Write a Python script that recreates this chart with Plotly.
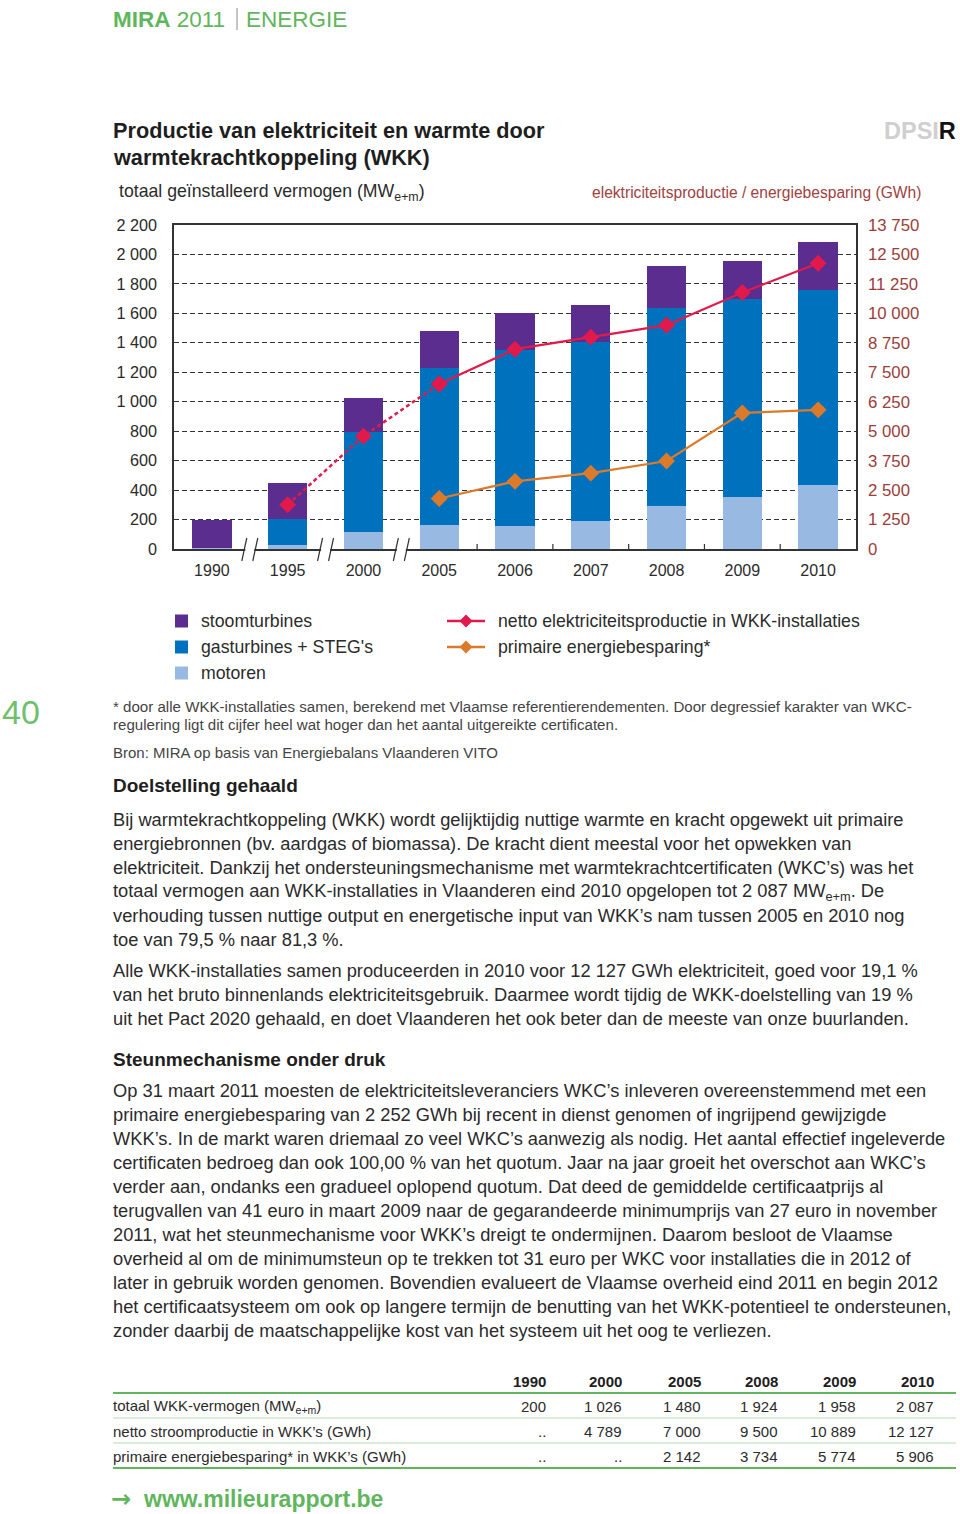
import plotly.graph_objects as go

W, H = 960, 1514
FONT = "Liberation Sans"
TXT = "#2b2b2b"
GREEN = "#5fb65d"

# ---------------- data ----------------
years = ["1990", "1995", "2000", "2005", "2006", "2007", "2008", "2009", "2010"]
motoren = [8, 25, 115, 160, 154, 192, 294, 350, 432]
gasturbines = [0, 181, 679, 1070, 1200, 1214, 1345, 1346, 1327]
stoomturbines = [192, 242, 232, 250, 251, 249, 285, 262, 328]
netto = [None, 1880, 4789, 7000, 8480, 8990, 9500, 10889, 12127]
besparing = [None, None, None, 2142, 2870, 3220, 3734, 5774, 5906]

left_ticks = list(range(0, 2201, 200))
right_ticks = list(range(0, 13751, 1250))

table_years = ["1990", "2000", "2005", "2008", "2009", "2010"]
table_rows = [
    ("totaal WKK-vermogen (MW<sub>e+m</sub>)", ["200", "1 026", "1 480", "1 924", "1 958", "2 087"]),
    ("netto stroomproductie in WKK’s (GWh)", ["..", "4 789", "7 000", "9 500", "10 889", "12 127"]),
    ("primaire energiebesparing* in WKK’s (GWh)", ["..", "..", "2 142", "3 734", "5 774", "5 906"]),
]

def fmt(v):
    return f"{v:,}".replace(",", " ")

# ---------------- geometry helpers ----------------
PL, PR, PT, PB = 174, 856, 225, 549

def px(x):
    return x / W

def py(y):
    return 1 - y / H

x_idx = list(range(len(years)))

fig = go.Figure()
fig.add_bar(x=x_idx, y=motoren, name="motoren", marker=dict(color="#98b9e2", line=dict(width=0)), width=0.52)
fig.add_bar(x=x_idx, y=gasturbines, name="gasturbines + STEG's", marker=dict(color="#0072bd", line=dict(width=0)), width=0.52)
fig.add_bar(x=x_idx, y=stoomturbines, name="stoomturbines", marker=dict(color="#5b2d8e", line=dict(width=0)), width=0.52)

RED = "#e2194b"
ORANGE = "#dd7a2a"
dot_x = [i for i in range(1, 4)]
dot_y = [netto[i] for i in dot_x]
sol_x = [i for i in range(3, 9)]
sol_y = [netto[i] for i in sol_x]
fig.add_scatter(x=dot_x, y=dot_y, yaxis="y2", mode="lines+markers",
                line=dict(color=RED, width=2.5, dash="4px,3px"),
                marker=dict(symbol="diamond", size=13, color=RED), showlegend=False)
fig.add_scatter(x=sol_x, y=sol_y, yaxis="y2", mode="lines+markers",
                line=dict(color=RED, width=2.2),
                marker=dict(symbol="diamond", size=13, color=RED), showlegend=False)
bx = [i for i, v in enumerate(besparing) if v is not None]
fig.add_scatter(x=bx, y=[besparing[i] for i in bx], yaxis="y2", mode="lines+markers",
                line=dict(color=ORANGE, width=2.2),
                marker=dict(symbol="diamond", size=13, color=ORANGE), showlegend=False)

fig.update_layout(
    width=W, height=H, margin=dict(l=0, r=0, t=0, b=0, pad=0, autoexpand=False),
    paper_bgcolor="white", plot_bgcolor="white",
    barmode="stack", showlegend=False,
    font=dict(family=FONT, color=TXT),
    xaxis=dict(domain=[px(PL), px(PR)], range=[-0.5, 8.5], tickvals=x_idx, ticktext=years,
               showline=True, linecolor="#333", linewidth=1.5, mirror=True, ticks="",
               showgrid=False, zeroline=False, tickfont=dict(size=16, color=TXT),
               ticklabelstandoff=6, automargin=False),
    yaxis=dict(domain=[py(PB), py(PT)], range=[0, 2200], tickvals=left_ticks,
               ticktext=[fmt(v) for v in left_ticks], showgrid=True, gridcolor="#333",
               griddash="5px,3px", gridwidth=1, showline=True, linecolor="#333", linewidth=1.5,
               mirror=True, zeroline=False, ticks="", tickfont=dict(size=16.2, color=TXT),
               ticklabelstandoff=12, automargin=False),
    yaxis2=dict(overlaying="y", side="right", range=[0, 13750], tickvals=right_ticks,
                ticktext=[fmt(v) for v in right_ticks], showgrid=False, showline=False,
                zeroline=False, ticks="", tickfont=dict(size=16.8, color="#9c3d3a"),
                ticklabelstandoff=11, automargin=False),
)

shapes = []
anns = []

def line(x0, y0, x1, y1, color="#333", width=1.2):
    shapes.append(dict(type="line", xref="paper", yref="paper", x0=px(x0), y0=py(y0),
                       x1=px(x1), y1=py(y1), line=dict(color=color, width=width)))

def rect(x0, y0, x1, y1, color):
    shapes.append(dict(type="rect", xref="paper", yref="paper", x0=px(x0), y0=py(y0),
                       x1=px(x1), y1=py(y1), line=dict(width=0), fillcolor=color))

def diamond(cx, cy, r, color):
    path = (f"M {px(cx - r)},{py(cy)} L {px(cx)},{py(cy - r)} L {px(cx + r)},{py(cy)} "
            f"L {px(cx)},{py(cy + r)} Z")
    shapes.append(dict(type="path", xref="paper", yref="paper", path=path,
                       fillcolor=color, line=dict(width=0)))

def txt(x, y, s, size=17, color=TXT, weight="normal", anchor="left", family=FONT):
    x = x - 2 if anchor == "left" else (x + 2 if anchor == "right" else x)
    anns.append(dict(x=px(x), y=py(y), xref="paper", yref="paper", text=s, showarrow=False,
                     xanchor=anchor, yanchor="middle",
                     font=dict(size=size, color=color, family=family, weight=weight)))

# axis breaks and inner ticks
slot = (PR - PL) / len(years)
for b in [0.5, 1.5, 2.5]:
    bxp = PL + (b + 0.5) * slot
    rect(bxp - 4.5, PB - 2, bxp + 4.5, PB + 2, "white")
    line(bxp - 8, PB + 12, bxp - 3, PB - 11, width=1.2)
    line(bxp + 3, PB + 12, bxp + 8, PB - 11, width=1.2)
for b in [3.5, 4.5, 5.5, 6.5, 7.5]:
    bxp = PL + (b + 0.5) * slot
    line(bxp, PB, bxp, PB - 5, width=1.2)

# header
txt(113, 19, "<b>MIRA</b> 2011", size=22.5, color=GREEN)
line(237, 8, 237, 30, color="#888", width=1)
txt(246, 19, "ENERGIE", size=22.5, color=GREEN)
txt(956, 131, "<span style='color:#cfcfcf'>DPSI</span>R", size=23.5, color="#111", weight="bold",
    anchor="right")

# title
txt(113, 130, "Productie van elektriciteit en warmte door", size=21.7, color="#1e1e1e", weight="bold")
txt(113, 157, "warmtekrachtkoppeling (WKK)", size=21.7, color="#1e1e1e", weight="bold")
txt(119, 192, "totaal geïnstalleerd vermogen (MW<sub>e+m</sub>)", size=17.7)
txt(921, 192, "elektriciteitsproductie / energiebesparing (GWh)", size=15.6, color="#a0413f",
    anchor="right")

# legend
leg_sq = [("stoomturbines", "#5b2d8e"), ("gasturbines + STEG's", "#0072bd"), ("motoren", "#98b9e2")]
for i, (name, col) in enumerate(leg_sq):
    yc = 621 + i * 26
    rect(175, yc - 6.5, 188, yc + 6.5, col)
    txt(201, yc, name, size=17.7)
leg_ln = [("netto elektriciteitsproductie in WKK-installaties", RED),
          ("primaire energiebesparing*", ORANGE)]
for i, (name, col) in enumerate(leg_ln):
    yc = 621 + i * 26
    line(447, yc, 485, yc, color=col, width=2.5)
    diamond(466, yc, 6.5, col)
    txt(498, yc, name, size=17.7)

# page number
txt(2, 712, "40", size=34, color="#6fc06c")

# footnote / source
txt(113, 706, "* door alle WKK-installaties samen, berekend met Vlaamse referentierendementen. Door degressief karakter van WKC-", size=15.1, color="#444")
txt(113, 724, "regulering ligt dit cijfer heel wat hoger dan het aantal uitgereikte certificaten.", size=15.1, color="#444")
txt(113, 752, "Bron: MIRA op basis van Energiebalans Vlaanderen VITO", size=15, color="#444")

# body text
txt(113, 785, "Doelstelling gehaald", size=19, color="#1e1e1e", weight="bold")
p1 = [
    "Bij warmtekrachtkoppeling (WKK) wordt gelijktijdig nuttige warmte en kracht opgewekt uit primaire",
    "energiebronnen (bv. aardgas of biomassa). De kracht dient meestal voor het opwekken van",
    "elektriciteit. Dankzij het ondersteuningsmechanisme met warmtekrachtcertificaten (WKC’s) was het",
    "totaal vermogen aan WKK-installaties in Vlaanderen eind 2010 opgelopen tot 2 087 MW<sub>e+m</sub>. De",
    "verhouding tussen nuttige output en energetische input van WKK’s nam tussen 2005 en 2010 nog",
    "toe van 79,5 % naar 81,3 %.",
]
p2 = [
    "Alle WKK-installaties samen produceerden in 2010 voor 12 127 GWh elektriciteit, goed voor 19,1 %",
    "van het bruto binnenlands elektriciteitsgebruik. Daarmee wordt tijdig de WKK-doelstelling van 19 %",
    "uit het Pact 2020 gehaald, en doet Vlaanderen het ook beter dan de meeste van onze buurlanden.",
]
p3 = [
    "Op 31 maart 2011 moesten de elektriciteitsleveranciers WKC’s inleveren overeenstemmend met een",
    "primaire energiebesparing van 2 252 GWh bij recent in dienst genomen of ingrijpend gewijzigde",
    "WKK’s. In de markt waren driemaal zo veel WKC’s aanwezig als nodig. Het aantal effectief ingeleverde",
    "certificaten bedroeg dan ook 100,00 % van het quotum. Jaar na jaar groeit het overschot aan WKC’s",
    "verder aan, ondanks een gradueel oplopend quotum. Dat deed de gemiddelde certificaatprijs al",
    "terugvallen van 41 euro in maart 2009 naar de gegarandeerde minimumprijs van 27 euro in november",
    "2011, wat het steunmechanisme voor WKK’s dreigt te ondermijnen. Daarom besloot de Vlaamse",
    "overheid al om de minimumsteun op te trekken tot 31 euro per WKC voor installaties die in 2012 of",
    "later in gebruik worden genomen. Bovendien evalueert de Vlaamse overheid eind 2011 en begin 2012",
    "het certificaatsysteem om ook op langere termijn de benutting van het WKK-potentieel te ondersteunen,",
    "zonder daarbij de maatschappelijke kost van het systeem uit het oog te verliezen.",
]
BODY = 18.3
for i, s in enumerate(p1):
    txt(113, 819 + i * 24.2, s, size=BODY)
for i, s in enumerate(p2):
    txt(113, 970 + i * 24.3, s, size=BODY)
txt(113, 1059, "Steunmechanisme onder druk", size=19, color="#1e1e1e", weight="bold")
for i, s in enumerate(p3):
    txt(113, 1090 + i * 24, s, size=BODY)

# table
col_right = [546, 622, 701, 778, 856, 934]
for yr, xr in zip(table_years, col_right):
    txt(xr, 1381, yr, size=15, weight="bold", anchor="right", color="#1e1e1e")
for r, (label, vals) in enumerate(table_rows):
    yc = 1406 + r * 25
    txt(113, yc, label, size=15)
    for v, xr in zip(vals, col_right):
        txt(xr, yc, v, size=15, anchor="right")
line(113, 1393, 956, 1393, color=GREEN, width=2.2)
line(113, 1418, 956, 1418, color="#b7dcb3", width=1)
line(113, 1443, 956, 1443, color="#b7dcb3", width=1)
line(113, 1468, 956, 1468, color=GREEN, width=2.2)

# footer link
txt(111, 1499, "<b>→</b>", size=24, color=GREEN, family="DejaVu Sans")
txt(143, 1499, "<b>www.milieurapport.be</b>", size=23, color=GREEN)

fig.update_layout(shapes=shapes, annotations=anns)

POST = (
    "document.documentElement.style.margin='0';"
    "document.body.style.margin='0';"
    "document.documentElement.style.overflow='hidden';"
    "document.body.style.overflow='hidden';"
    "var gdivs=document.getElementsByClassName('plotly-graph-div');"
    "for(var k=0;k<gdivs.length;k++)"
    "{gdivs[k].style.position='fixed';gdivs[k].style.top='0px';gdivs[k].style.left='0px';}"
)
fig.write_html("out.html", config={"displayModeBar": False}, post_script=POST)
